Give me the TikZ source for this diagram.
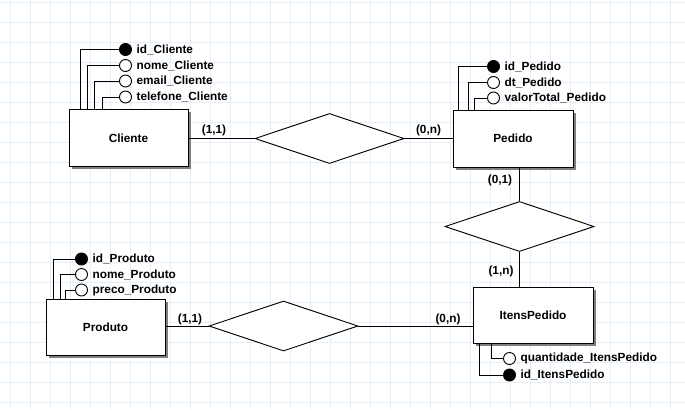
\documentclass[tikz,border=0pt]{standalone}
\usepackage{fontspec}
\setmainfont{Liberation Sans}
\usetikzlibrary{shapes.geometric,shadows}
\definecolor{gridc}{HTML}{E6EEF7}
\definecolor{shadowc}{HTML}{808080}
\begin{document}
\begin{tikzpicture}[x=1pt,y=-1pt,
  txt/.style={font=\bfseries\fontsize{11.8}{13}\selectfont},
  conn/.style={draw=black, line width=0.9pt},
  entity/.style={draw, line width=1pt, fill=white, txt,
    drop shadow={shadow xshift=2.5pt, shadow yshift=-2.5pt, fill=shadowc, opacity=1}},
  relation/.style={diamond, draw, line width=0.9pt, fill=white, inner sep=0pt,
    minimum width=149pt, minimum height=50pt},
  attr/.style={circle, draw, line width=0.9pt, fill=white, minimum size=12pt, inner sep=0pt,
    label={[txt, inner sep=0pt, label distance=4.5pt]east:#1}},
  keyattr/.style={attr=#1, fill=black},
  card/.style={txt, inner sep=0pt}
]
\useasboundingbox (0,0) rectangle (685,410);
\fill[white] (0,0) rectangle (685,410);
\foreach \x in {10,30,...,670} \draw[gridc, line width=0.7pt] (\x,0) -- (\x,410);
\foreach \y in {2,22,...,402} \draw[gridc, line width=0.7pt] (0,\y) -- (685,\y);

% entities
\node[entity, minimum width=119pt, minimum height=57pt] (cliente) at (128.5,138) {Cliente};
\node[entity, minimum width=120pt, minimum height=57pt] (pedido) at (513,138.5) {Pedido};
\node[entity, minimum width=120pt, minimum height=56pt] (itens) at (533,315) {ItensPedido};
\node[entity, minimum width=119pt, minimum height=56pt] (produto) at (105.5,327) {Produto};

% relations
\node[relation] (r1) at (329.5,138.5) {};
\node[relation] (r2) at (519.5,226.5) {};
\node[relation] (r3) at (283.5,326) {};

\draw[conn] (r1.west) -- (r1.west -| cliente.east);
\draw[conn] (r1.east) -- (r1.east -| pedido.west);
\draw[conn] (r2.north) -- (r2.north |- pedido.south);
\draw[conn] (r2.south) -- (r2.south |- itens.north);
\draw[conn] (r3.west) -- (r3.west -| produto.east);
\draw[conn] (r3.east) -- (r3.east -| itens.west);

% cardinalities
\node[card] (c1) at (214,130) {(1,1)};
\node[card] (c2) at (428.5,130) {(0,n)};
\node[card] (c3) at (500,180) {(0,1)};
\node[card] (c4) at (501,271) {(1,n)};
\node[card] (c5) at (190,319) {(1,1)};
\node[card] (c6) at (448,319) {(0,n)};

% Cliente attributes
\node[keyattr={id\_Cliente}] (ac1) at (125.5,49.5) {};
\node[attr={nome\_Cliente}] (ac2) at (125.5,65.5) {};
\node[attr={email\_Cliente}] (ac3) at (125.5,81) {};
\node[attr={telefone\_Cliente}] (ac4) at (125.5,97) {};
\draw[conn] (ac1.west) -| ([xshift=12pt]cliente.north west);
\draw[conn] (ac2.west) -| ([xshift=19pt]cliente.north west);
\draw[conn] (ac3.west) -| ([xshift=26pt]cliente.north west);
\draw[conn] (ac4.west) -| ([xshift=34pt]cliente.north west);

% Pedido attributes
\node[keyattr={id\_Pedido}] (ap1) at (493.5,66.5) {};
\node[attr={dt\_Pedido}] (ap2) at (493.5,82.5) {};
\node[attr={valorTotal\_Pedido}] (ap3) at (493.5,98) {};
\draw[conn] (ap1.west) -| ([xshift=5.5pt]pedido.north west);
\draw[conn] (ap2.west) -| ([xshift=15.5pt]pedido.north west);
\draw[conn] (ap3.west) -| ([xshift=21.5pt]pedido.north west);

% Produto attributes
\node[keyattr={id\_Produto}] (ar1) at (81.5,259) {};
\node[attr={nome\_Produto}] (ar2) at (81.5,274.5) {};
\node[attr={preco\_Produto}] (ar3) at (81.5,290) {};
\draw[conn] (ar1.west) -| ([xshift=7.5pt]produto.north west);
\draw[conn] (ar2.west) -| ([xshift=14.5pt]produto.north west);
\draw[conn] (ar3.west) -| ([xshift=20pt]produto.north west);

% ItensPedido attributes
\node[attr={quantidade\_ItensPedido}] (ai1) at (509.5,358.5) {};
\node[keyattr={id\_ItensPedido}] (ai2) at (509.5,375) {};
\draw[conn] (ai1.west) -| ([xshift=18.5pt]itens.south west);
\draw[conn] (ai2.west) -| ([xshift=7pt]itens.south west);
\end{tikzpicture}
\end{document}
